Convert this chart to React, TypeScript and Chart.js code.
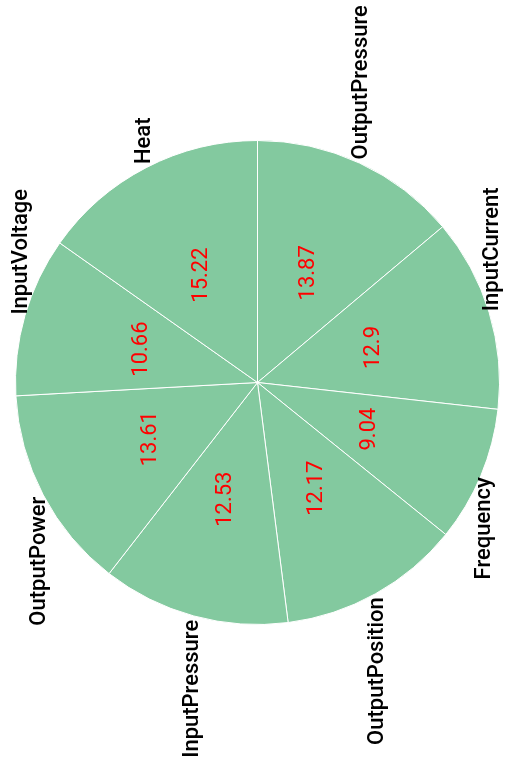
import React, { useEffect, useRef } from "react";
import { Chart, registerables } from "chart.js";

Chart.register(...registerables);

const categories = [
  "OutputPressure",
  "InputCurrent",
  "Frequency",
  "OutputPosition",
  "InputPressure",
  "OutputPower",
  "InputVoltage",
  "Heat",
];
const values = [13.87, 12.9, 9.04, 12.17, 12.53, 13.61, 10.66, 15.22];

const FILL = "rgb(131, 201, 159)";
const FONT = "Roboto, 'Noto Sans', sans-serif";

// Draws category names outside each slice and values at the slice centres,
// both turned a quarter-turn so they read bottom-to-top.
const sliceLabels = {
  id: "sliceLabels",
  afterDatasetsDraw(chart: any) {
    const ctx = chart.ctx as CanvasRenderingContext2D;
    const meta = chart.getDatasetMeta(0);
    const data = chart.data.datasets[0].data as number[];
    meta.data.forEach((arc: any, i: number) => {
      const { x, y, startAngle, endAngle, outerRadius } = arc.getProps(
        ["x", "y", "startAngle", "endAngle", "outerRadius"],
        true
      );
      const mid = (startAngle + endAngle) / 2;
      const cos = Math.cos(mid);
      const sin = Math.sin(mid);

      // value in the middle of the slice
      const vx = x + cos * outerRadius * 0.5;
      const vy = y + sin * outerRadius * 0.5;
      ctx.save();
      ctx.translate(vx, vy);
      ctx.rotate(-Math.PI / 2);
      ctx.font = `400 22px ${FONT}`;
      ctx.fillStyle = "#ff0000";
      ctx.textAlign = "center";
      ctx.textBaseline = "middle";
      ctx.fillText(String(data[i]), 0, 0);
      ctx.restore();

      // category name just outside the rim
      const gap = 4;
      const lx = x + cos * (outerRadius + gap);
      const ly = y + sin * (outerRadius + gap);
      ctx.save();
      ctx.translate(lx, ly);
      ctx.rotate(-Math.PI / 2);
      ctx.font = `500 22px ${FONT}`;
      ctx.fillStyle = "#000000";
      ctx.textBaseline = "middle";
      ctx.textAlign = sin < 0 ? "left" : "right";
      ctx.fillText(chart.data.labels[i], 0, 0);
      ctx.restore();
    });
  },
};

export default function App() {
  const canvasRef = useRef<HTMLCanvasElement | null>(null);

  useEffect(() => {
    document.body.style.margin = "0";
    const canvas = canvasRef.current;
    if (!canvas) return;
    const chart = new Chart(canvas, {
      type: "pie",
      data: {
        labels: categories,
        datasets: [
          {
            data: values,
            backgroundColor: FILL,
            borderColor: "#ffffff",
            borderWidth: 1,
          },
        ],
      },
      options: {
        responsive: false,
        animation: false,
        layout: { padding: { left: 15, right: 7, top: 140, bottom: 144 } },
        plugins: {
          legend: { display: false },
          tooltip: { enabled: false },
        },
      },
      plugins: [sliceLabels],
    });
    return () => chart.destroy();
  }, []);

  return (
    <div style={{ width: 507, height: 769 }}>
      <canvas ref={canvasRef} width={507} height={769} style={{ display: "block" }} />
    </div>
  );
}
